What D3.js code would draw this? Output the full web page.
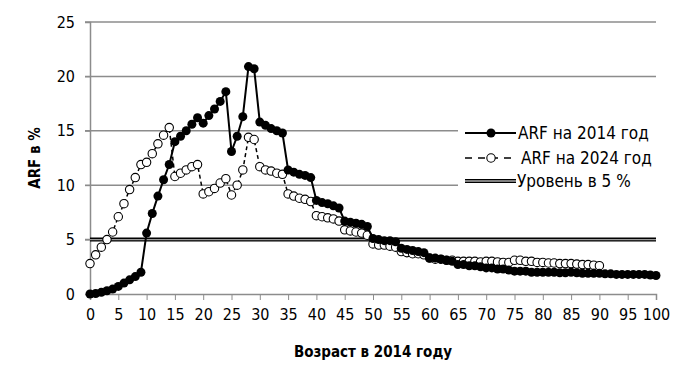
<!DOCTYPE html>
<html>
<head>
<meta charset="utf-8">
<script src="https://cdn.jsdelivr.net/npm/d3@7"></script>
<style>
  body { margin: 0; background: #fff; }
  svg { display: block; }
  .tick-label { font-family: "Liberation Sans Narrow", "DejaVu Sans Condensed", sans-serif; font-size: 16px; fill: #000; }
  .legend-label { font-family: "Liberation Sans Narrow", "DejaVu Sans Condensed", sans-serif; font-size: 17px; fill: #000; }
  .axis-title { font-family: "Liberation Sans Narrow", "DejaVu Sans Condensed", sans-serif; font-size: 15px; font-weight: bold; fill: #000; }
</style>
</head>
<body>
<div id="chart"></div>
<script>
document.addEventListener('DOMContentLoaded', init, false);

var width = 691;
var height = 383;

var margin = { top: 22, right: 35, bottom: 89, left: 90 };

// ages 0..100
var ages2014 = d3.range(0, 101);
var arf2014 = [
  0.0, 0.05, 0.15, 0.3, 0.45, 0.7, 1.0, 1.3, 1.6, 2.0,
  5.6, 7.4, 9.0, 10.5, 11.9, 14.0, 14.5, 15.0, 15.6, 16.2,
  15.7, 16.4, 17.0, 17.7, 18.6, 13.1, 14.5, 16.3, 20.9, 20.7,
  15.8, 15.5, 15.2, 15.0, 14.8, 11.4, 11.2, 11.0, 10.9, 10.7,
  8.6, 8.4, 8.3, 8.1, 7.9, 6.7, 6.6, 6.5, 6.4, 6.2,
  5.1, 5.0, 4.9, 4.9, 4.8, 4.2, 4.1, 4.0, 3.9, 3.8,
  3.3, 3.3, 3.2, 3.1, 3.0, 2.7, 2.7, 2.6, 2.6, 2.5,
  2.4, 2.4, 2.3, 2.3, 2.2, 2.1, 2.1, 2.1, 2.0, 2.0,
  2.0, 2.0, 2.0, 1.95, 1.95, 2.0, 1.95, 1.9, 1.9, 1.9,
  1.9, 1.85, 1.85, 1.8, 1.8, 1.8, 1.8, 1.8, 1.8, 1.75,
  1.7
];

// ages 0..90
var ages2024 = d3.range(0, 91);
var arf2024 = [
  2.8, 3.6, 4.3, 5.0, 5.7, 7.1, 8.3, 9.6, 10.7, 11.9,
  12.1, 12.9, 13.8, 14.6, 15.3, 10.8, 11.1, 11.4, 11.7, 11.9,
  9.2, 9.4, 9.7, 10.2, 10.6, 9.1, 10.0, 11.4, 14.4, 14.2,
  11.7, 11.4, 11.3, 11.1, 11.0, 9.2, 9.0, 8.8, 8.7, 8.5,
  7.2, 7.1, 7.0, 6.9, 6.7, 5.9, 5.8, 5.7, 5.6, 5.4,
  4.6, 4.5, 4.5, 4.4, 4.3, 3.9, 3.8, 3.7, 3.7, 3.6,
  3.3, 3.2, 3.2, 3.1, 3.1, 3.0, 3.0, 3.0, 3.0, 2.95,
  3.0, 3.0, 2.95, 2.9, 2.9, 3.1, 3.1, 3.0, 3.0, 2.9,
  2.9, 2.85, 2.85, 2.8, 2.8, 2.8, 2.75, 2.7, 2.7, 2.65,
  2.6
];

var level = 5;

var xTicks = d3.range(0, 101, 5);
var yTicks = [0, 5, 10, 15, 20, 25];

var legendLabels = ['ARF на 2014 год', 'ARF на 2024 год', 'Уровень в 5 %'];
var xTitle = 'Возраст в 2014 году';
var yTitle = 'ARF в %';

function init() {

  var svg = d3.select('#chart')
    .append('svg')
      .attr('width', width)
      .attr('height', height);

  var innerW = width - margin.left - margin.right;
  var innerH = height - margin.top - margin.bottom;

  var chart = svg.append('g')
    .attr('transform', 'translate(' + margin.left + ',' + margin.top + ')');

  var x = d3.scaleLinear().domain([0, 100]).range([0, innerW]);
  var y = d3.scaleLinear().domain([0, 25]).range([innerH, 0]);

  // gridlines
  chart.append('g')
    .selectAll('line')
    .data(yTicks.filter(function (d) { return d > 0; }))
    .enter()
    .append('line')
      .attr('x1', -5)
      .attr('x2', innerW)
      .attr('y1', function (d) { return y(d); })
      .attr('y2', function (d) { return y(d); })
      .attr('stroke', '#8c8c8c')
      .attr('stroke-width', 1.5);

  // axes
  var xAxis = chart.append('g')
    .attr('transform', 'translate(0,' + innerH + ')')
    .call(d3.axisBottom(x).tickValues(xTicks).tickSize(6).tickPadding(9));
  xAxis.select('.domain').attr('stroke', '#8c8c8c').attr('stroke-width', 1.5);
  xAxis.selectAll('.tick line').attr('stroke', '#8c8c8c');
  xAxis.selectAll('.tick text').attr('class', 'tick-label').attr('fill', null);

  var yAxis = chart.append('g')
    .call(d3.axisLeft(y).tickValues(yTicks).tickSize(5).tickPadding(10));
  yAxis.select('.domain').attr('stroke', '#8c8c8c').attr('stroke-width', 1.5);
  yAxis.selectAll('.tick line').attr('stroke', '#8c8c8c');
  yAxis.selectAll('.tick text').attr('class', 'tick-label').attr('fill', null);

  // 5% level
  chart.append('line')
    .attr('x1', 0).attr('x2', innerW)
    .attr('y1', y(level)).attr('y2', y(level))
    .attr('stroke', '#000').attr('stroke-width', 4);
  chart.append('line')
    .attr('x1', 0).attr('x2', innerW)
    .attr('y1', y(level)).attr('y2', y(level))
    .attr('stroke', '#9a9a9a').attr('stroke-width', 1.2);

  var data2014 = ages2014.map(function (a, i) { return { age: a, v: arf2014[i] }; });
  var data2024 = ages2024.map(function (a, i) { return { age: a, v: arf2024[i] }; });

  var line = d3.line()
    .x(function (d) { return x(d.age); })
    .y(function (d) { return y(d.v); });

  // 2024 series
  chart.append('path')
    .datum(data2024)
    .attr('fill', 'none')
    .attr('stroke', '#000')
    .attr('stroke-width', 1.5)
    .attr('stroke-dasharray', '4,3')
    .attr('d', line);

  chart.append('g')
    .selectAll('circle')
    .data(data2024)
    .enter()
    .append('circle')
      .attr('cx', function (d) { return x(d.age); })
      .attr('cy', function (d) { return y(d.v); })
      .attr('r', 4.2)
      .attr('fill', '#fff')
      .attr('stroke', '#000')
      .attr('stroke-width', 1.1);

  // 2014 series
  chart.append('path')
    .datum(data2014)
    .attr('fill', 'none')
    .attr('stroke', '#000')
    .attr('stroke-width', 2)
    .attr('d', line);

  chart.append('g')
    .selectAll('circle')
    .data(data2014)
    .enter()
    .append('circle')
      .attr('cx', function (d) { return x(d.age); })
      .attr('cy', function (d) { return y(d.v); })
      .attr('r', 4.5)
      .attr('fill', '#000');

  drawLegend(svg);

  // axis titles
  svg.append('text')
    .attr('class', 'axis-title')
    .attr('x', margin.left + x(50))
    .attr('y', 357)
    .attr('text-anchor', 'middle')
    .text(xTitle);

  svg.append('text')
    .attr('class', 'axis-title')
    .attr('transform', 'translate(40,' + (margin.top + y(12.5)) + ') rotate(-90)')
    .attr('text-anchor', 'middle')
    .text(yTitle);
}

function drawLegend(svg) {

  var lg = svg.append('g').attr('transform', 'translate(458,118)');

  lg.append('rect')
    .attr('width', 205).attr('height', 78)
    .attr('fill', '#fff');

  var rows = [15, 40, 63];

  // 2014
  lg.append('line')
    .attr('x1', 7).attr('x2', 58).attr('y1', rows[0]).attr('y2', rows[0])
    .attr('stroke', '#000').attr('stroke-width', 2);
  lg.append('circle')
    .attr('cx', 33).attr('cy', rows[0]).attr('r', 4.5).attr('fill', '#000');

  // 2024
  lg.append('line')
    .attr('x1', 7).attr('x2', 58).attr('y1', rows[1]).attr('y2', rows[1])
    .attr('stroke', '#000').attr('stroke-width', 1.5)
    .attr('stroke-dasharray', '7,6');
  lg.append('circle')
    .attr('cx', 33).attr('cy', rows[1]).attr('r', 4.2)
    .attr('fill', '#fff').attr('stroke', '#000').attr('stroke-width', 1.1);

  // level
  lg.append('line')
    .attr('x1', 7).attr('x2', 58).attr('y1', rows[2]).attr('y2', rows[2])
    .attr('stroke', '#000').attr('stroke-width', 4);
  lg.append('line')
    .attr('x1', 7).attr('x2', 58).attr('y1', rows[2]).attr('y2', rows[2])
    .attr('stroke', '#fff').attr('stroke-width', 1.2);

  var textX = [60, 63, 59];
  lg.selectAll('text')
    .data(legendLabels)
    .enter()
    .append('text')
      .attr('class', 'legend-label')
      .attr('x', function (d, i) { return textX[i]; })
      .attr('y', function (d, i) { return rows[i] + 6; })
      .text(function (d) { return d; });
}
</script>
</body>
</html>
